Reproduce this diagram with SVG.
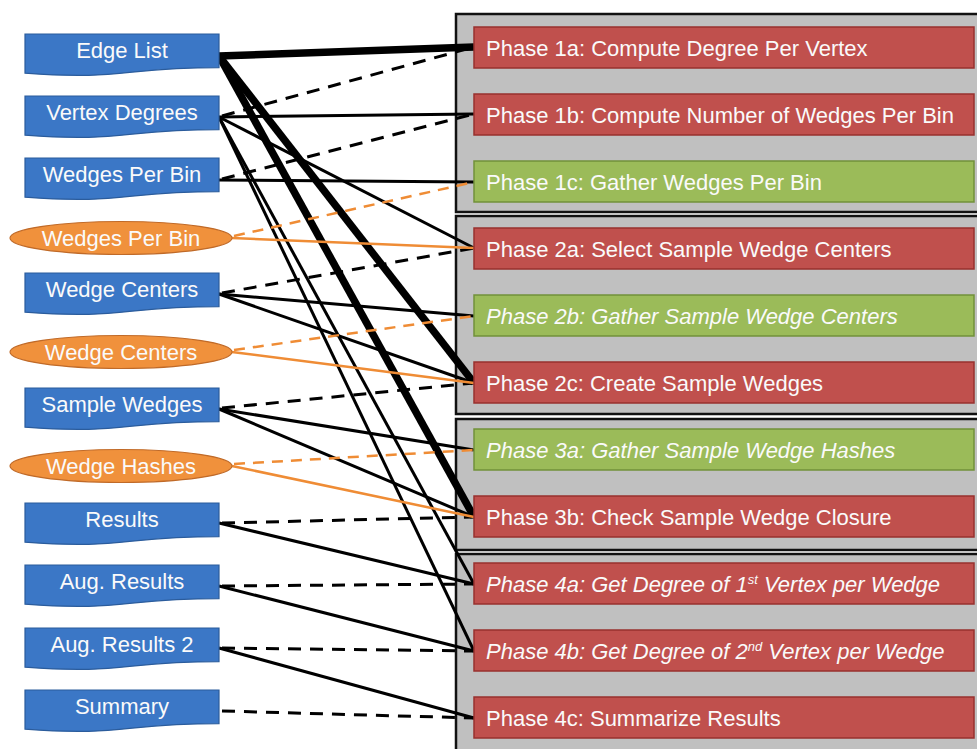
<svg xmlns="http://www.w3.org/2000/svg" width="977" height="749" viewBox="0 0 977 749">
  <defs>
    <!-- flowchart "document" shape: flat top, wavy bottom -->
    <path id="doc" d="M0 0 H194 V33.7 C97 33.7 97 46.5 0 39.2 Z"/>
    <style>
      .frame { fill: #c0c0c0; stroke: #111; stroke-width: 2.5; }
      .data { fill: #3b77c6; stroke: #2b5c9c; stroke-width: 1.2; }
      .tmp { fill: #f0913c; stroke: #c06a28; stroke-width: 1.2; }
      .red { fill: #c0504d; stroke: #98302e; stroke-width: 1.5; }
      .green { fill: #9bbb59; stroke: #71913a; stroke-width: 1.5; }
      .lbl { font-family: "Liberation Sans", Arial, sans-serif; font-size: 22px; fill: #fafafa; }
      .mid { text-anchor: middle; }
      .it { font-style: italic; }
      .sup { font-size: 13px; }
      .rd { fill: none; stroke: #000; stroke-width: 3; }
      .heavy { fill: none; stroke: #000; stroke-width: 7.5; }
      .wr { fill: none; stroke: #000; stroke-width: 3; stroke-dasharray: 13 9; }
      .ord { fill: none; stroke: #ef8c35; stroke-width: 2.5; }
      .owr { fill: none; stroke: #ef8c35; stroke-width: 2.5; stroke-dasharray: 11 8; }
    </style>
  </defs>

  <rect width="977" height="749" fill="#ffffff"/>

  <!-- phase group frames -->
  <g id="group-phase1"><rect class="frame" x="456" y="14" width="540" height="198"/></g>
  <g id="group-phase2"><rect class="frame" x="456" y="216" width="540" height="198"/></g>
  <g id="group-phase3"><rect class="frame" x="456" y="419" width="540" height="131"/></g>
  <g id="group-phase4"><rect class="frame" x="456" y="554" width="540" height="210"/></g>

  <!-- connectors: solid = read, dashed = write, orange = temporary data -->
  <g id="connectors">
    <line class="heavy" x1="219" y1="56" x2="474" y2="47"/>
    <line class="heavy" x1="219" y1="56" x2="474" y2="383"/>
    <line class="heavy" x1="219" y1="56" x2="474" y2="517"/>

    <line class="rd" x1="219" y1="117" x2="474" y2="114"/>
    <line class="rd" x1="219" y1="117" x2="474" y2="248"/>
    <line class="rd" x1="219" y1="117" x2="474" y2="584"/>
    <line class="rd" x1="219" y1="117" x2="474" y2="651"/>
    <line class="rd" x1="219" y1="180" x2="474" y2="182"/>
    <line class="rd" x1="219" y1="294" x2="474" y2="316"/>
    <line class="rd" x1="219" y1="294" x2="474" y2="383"/>
    <line class="rd" x1="219" y1="409" x2="474" y2="450"/>
    <line class="rd" x1="219" y1="409" x2="474" y2="517"/>
    <line class="rd" x1="219" y1="523" x2="474" y2="584"/>
    <line class="rd" x1="219" y1="586" x2="474" y2="651"/>
    <line class="rd" x1="219" y1="648" x2="474" y2="718"/>

    <line class="wr" x1="222" y1="116" x2="474" y2="47"/>
    <line class="wr" x1="222" y1="179" x2="474" y2="114"/>
    <line class="wr" x1="222" y1="293" x2="474" y2="248"/>
    <line class="wr" x1="222" y1="408" x2="474" y2="383"/>
    <line class="wr" x1="222" y1="523" x2="474" y2="517"/>
    <line class="wr" x1="222" y1="586" x2="474" y2="584"/>
    <line class="wr" x1="222" y1="648" x2="474" y2="651"/>
    <line class="wr" x1="222" y1="711" x2="474" y2="718"/>

    <line class="ord" x1="232" y1="238" x2="474" y2="248"/>
    <line class="ord" x1="232" y1="352" x2="474" y2="383"/>
    <line class="ord" x1="232" y1="466" x2="474" y2="517"/>
    <line class="owr" x1="234" y1="236" x2="474" y2="182"/>
    <line class="owr" x1="234" y1="350" x2="474" y2="316"/>
    <line class="owr" x1="234" y1="464" x2="474" y2="450"/>
  </g>

  <!-- phases -->
  <g id="phase-1a"><rect class="red" x="474" y="27" width="500" height="41"/><text class="lbl" x="486" y="56">Phase 1a: Compute Degree Per Vertex</text></g>
  <g id="phase-1b"><rect class="red" x="474" y="94" width="500" height="41"/><text class="lbl" x="486" y="123">Phase 1b: Compute Number of Wedges Per Bin</text></g>
  <g id="phase-1c"><rect class="green" x="474" y="161" width="500" height="41"/><text class="lbl" x="486" y="190">Phase 1c: Gather Wedges Per Bin</text></g>
  <g id="phase-2a"><rect class="red" x="474" y="228" width="500" height="41"/><text class="lbl" x="486" y="257">Phase 2a: Select Sample Wedge Centers</text></g>
  <g id="phase-2b"><rect class="green" x="474" y="295" width="500" height="41"/><text class="lbl it" x="486" y="324">Phase 2b: Gather Sample Wedge Centers</text></g>
  <g id="phase-2c"><rect class="red" x="474" y="362" width="500" height="41"/><text class="lbl" x="486" y="391">Phase 2c: Create Sample Wedges</text></g>
  <g id="phase-3a"><rect class="green" x="474" y="429" width="500" height="41"/><text class="lbl it" x="486" y="458">Phase 3a: Gather Sample Wedge Hashes</text></g>
  <g id="phase-3b"><rect class="red" x="474" y="496" width="500" height="41"/><text class="lbl" x="486" y="525">Phase 3b: Check Sample Wedge Closure</text></g>
  <g id="phase-4a"><rect class="red" x="474" y="563" width="500" height="41"/><text class="lbl it" x="486" y="592">Phase 4a: Get Degree of 1<tspan class="sup" dy="-8">st</tspan><tspan dy="8"> Vertex per Wedge</tspan></text></g>
  <g id="phase-4b"><rect class="red" x="474" y="630" width="500" height="41"/><text class="lbl it" x="486" y="659">Phase 4b: Get Degree of 2<tspan class="sup" dy="-8">nd</tspan><tspan dy="8"> Vertex per Wedge</tspan></text></g>
  <g id="phase-4c"><rect class="red" x="474" y="697" width="500" height="41"/><text class="lbl" x="486" y="726">Phase 4c: Summarize Results</text></g>

  <!-- persistent data (blue) -->
  <g id="edge-list"><use href="#doc" class="data" x="25" y="34"/><text class="lbl mid" x="122" y="58">Edge List</text></g>
  <g id="vertex-degrees"><use href="#doc" class="data" x="25" y="96"/><text class="lbl mid" x="122" y="120">Vertex Degrees</text></g>
  <g id="wedges-per-bin"><use href="#doc" class="data" x="25" y="158"/><text class="lbl mid" x="122" y="182">Wedges Per Bin</text></g>
  <g id="wedge-centers"><use href="#doc" class="data" x="25" y="273"/><text class="lbl mid" x="122" y="297">Wedge Centers</text></g>
  <g id="sample-wedges"><use href="#doc" class="data" x="25" y="388"/><text class="lbl mid" x="122" y="412">Sample Wedges</text></g>
  <g id="results"><use href="#doc" class="data" x="25" y="503"/><text class="lbl mid" x="122" y="527">Results</text></g>
  <g id="aug-results"><use href="#doc" class="data" x="25" y="565"/><text class="lbl mid" x="122" y="589">Aug. Results</text></g>
  <g id="aug-results-2"><use href="#doc" class="data" x="25" y="628"/><text class="lbl mid" x="122" y="652">Aug. Results 2</text></g>
  <g id="summary"><use href="#doc" class="data" x="25" y="690"/><text class="lbl mid" x="122" y="714">Summary</text></g>

  <!-- temporary data (orange) -->
  <g id="tmp-wedges-per-bin"><ellipse class="tmp" cx="121" cy="238" rx="111" ry="16.5"/><text class="lbl mid" x="121" y="246">Wedges Per Bin</text></g>
  <g id="tmp-wedge-centers"><ellipse class="tmp" cx="121" cy="352" rx="111" ry="16.5"/><text class="lbl mid" x="121" y="360">Wedge Centers</text></g>
  <g id="tmp-wedge-hashes"><ellipse class="tmp" cx="121" cy="466" rx="111" ry="16.5"/><text class="lbl mid" x="121" y="474">Wedge Hashes</text></g>
</svg>
